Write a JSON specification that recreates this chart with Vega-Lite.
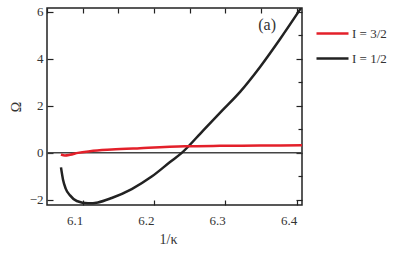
{
  "$schema": "https://vega.github.io/schema/vega-lite/v6.json",
  "width": 255,
  "height": 197,
  "autosize": "none",
  "padding": {"left": 47, "top": 8, "right": 97, "bottom": 51},
  "background": "white",
  "config": {
    "font": "Liberation Serif",
    "view": {"stroke": "#222", "strokeWidth": 1.5},
    "axis": {
      "grid": false,
      "domain": false,
      "labelFont": "Liberation Serif",
      "labelFontSize": 13,
      "labelColor": "#333",
      "labelOverlap": false,
      "labelFlush": false,
      "titleFont": "Liberation Serif",
      "titleFontSize": 14,
      "titleFontWeight": "normal",
      "titleColor": "#333",
      "tickColor": "#222",
      "tickWidth": 1.2
    }
  },
  "datasets": {
    "curves": [
      {"k": 6.0696, "omega": -0.62, "series": "I = 1/2"},
      {"k": 6.0724, "omega": -1.13, "series": "I = 1/2"},
      {"k": 6.0762, "omega": -1.52, "series": "I = 1/2"},
      {"k": 6.0823, "omega": -1.81, "series": "I = 1/2"},
      {"k": 6.0917, "omega": -2.05, "series": "I = 1/2"},
      {"k": 6.1075, "omega": -2.15, "series": "I = 1/2"},
      {"k": 6.1215, "omega": -2.11, "series": "I = 1/2"},
      {"k": 6.1407, "omega": -1.92, "series": "I = 1/2"},
      {"k": 6.1688, "omega": -1.54, "series": "I = 1/2"},
      {"k": 6.1968, "omega": -1.01, "series": "I = 1/2"},
      {"k": 6.2225, "omega": -0.39, "series": "I = 1/2"},
      {"k": 6.2389, "omega": 0.0, "series": "I = 1/2"},
      {"k": 6.2688, "omega": 0.95, "series": "I = 1/2"},
      {"k": 6.2968, "omega": 1.84, "series": "I = 1/2"},
      {"k": 6.3207, "omega": 2.6, "series": "I = 1/2"},
      {"k": 6.3487, "omega": 3.66, "series": "I = 1/2"},
      {"k": 6.3768, "omega": 4.85, "series": "I = 1/2"},
      {"k": 6.4062, "omega": 6.17, "series": "I = 1/2"},
      {"k": 6.0696, "omega": -0.07, "series": "I = 3/2"},
      {"k": 6.0752, "omega": -0.11, "series": "I = 3/2"},
      {"k": 6.0823, "omega": -0.08, "series": "I = 3/2"},
      {"k": 6.0935, "omega": 0.0, "series": "I = 3/2"},
      {"k": 6.1103, "omega": 0.07, "series": "I = 3/2"},
      {"k": 6.1407, "omega": 0.14, "series": "I = 3/2"},
      {"k": 6.1804, "omega": 0.2, "series": "I = 3/2"},
      {"k": 6.2435, "omega": 0.28, "series": "I = 3/2"},
      {"k": 6.2926, "omega": 0.3, "series": "I = 3/2"},
      {"k": 6.3487, "omega": 0.31, "series": "I = 3/2"},
      {"k": 6.4075, "omega": 0.32, "series": "I = 3/2"}
    ],
    "zero": [{"omega": 0}],
    "panel": [{"k": 6.3586, "omega": 5.45, "label": "(a)"}]
  },
  "layer": [
    {
      "layer": [
        {
          "data": {"name": "zero"},
          "mark": {"type": "rule", "color": "#444", "strokeWidth": 1.5},
          "encoding": {
            "y": {"field": "omega", "type": "quantitative", "scale": {"domain": [-2.22, 6.17], "nice": false, "zero": false}}
          }
        },
        {
          "data": {"name": "curves"},
          "mark": {"type": "line", "strokeWidth": 2.5, "clip": true, "interpolate": "monotone"},
          "encoding": {
            "x": {
              "field": "k", "type": "quantitative",
              "scale": {"domain": [6.05, 6.4075], "nice": false, "zero": false},
              "axis": {
                "title": "1/κ",
                "orient": "bottom",
                "values": [6.1, 6.2, 6.3, 6.4],
                "format": ".1f",
                "tickSize": -5,
                "labelAlign": "right",
                "labelBaseline": "top",
                "labelPadding": 14,
                "titleX": 121,
                "titlePadding": 5
              }
            },
            "y": {
              "field": "omega", "type": "quantitative",
              "scale": {"domain": [-2.22, 6.17], "nice": false, "zero": false},
              "axis": {
                "title": "Ω",
                "orient": "left",
                "values": [-2, -1, 0, 1, 2, 3, 4, 5, 6],
                "labelExpr": "datum.value % 2 === 0 ? format(datum.value, 'd') : ''",
                "tickSize": {"condition": {"test": "datum.value % 2 === 0", "value": -6}, "value": -4},
                "labelPadding": 10,
                "titlePadding": 6
              }
            },
            "color": {
              "field": "series", "type": "nominal",
              "scale": {"domain": ["I = 3/2", "I = 1/2"], "range": ["#e3202a", "#222222"]},
              "legend": {
                "title": null,
                "orient": "none",
                "legendX": 268,
                "legendY": 8,
                "symbolType": "stroke",
                "symbolSize": 1024,
                "symbolStrokeWidth": 2.5,
                "labelFont": "Liberation Serif",
                "labelFontSize": 13,
                "labelColor": "#333",
                "labelOffset": 2,
                "rowPadding": -13
              }
            }
          }
        },
        {
          "data": {"name": "panel"},
          "mark": {"type": "text", "font": "Liberation Serif", "fontSize": 16, "color": "#333"},
          "encoding": {
            "x": {"field": "k", "type": "quantitative"},
            "y": {"field": "omega", "type": "quantitative"},
            "text": {"field": "label"}
          }
        }
      ]
    },
    {
      "data": {"name": "zero"},
      "mark": {"type": "point", "opacity": 0},
      "encoding": {
        "x": {
          "datum": 6.2, "type": "quantitative",
          "scale": {"domain": [6.05, 6.4075], "nice": false, "zero": false},
          "axis": {
            "orient": "top", "title": null, "labels": false,
            "values": [6.05, 6.1, 6.15, 6.2, 6.25, 6.3, 6.35, 6.4],
            "tickSize": -5
          }
        },
        "y": {
          "datum": 0, "type": "quantitative",
          "scale": {"domain": [-2.22, 6.17], "nice": false, "zero": false},
          "axis": {
            "orient": "right", "title": null, "labels": false,
            "values": [-2, -1, 0, 1, 2, 3, 4, 5, 6],
            "tickSize": {"condition": {"test": "datum.value % 2 === 0", "value": -6}, "value": -4}
          }
        }
      }
    }
  ],
  "resolve": {"scale": {"x": "independent", "y": "independent"}}
}
